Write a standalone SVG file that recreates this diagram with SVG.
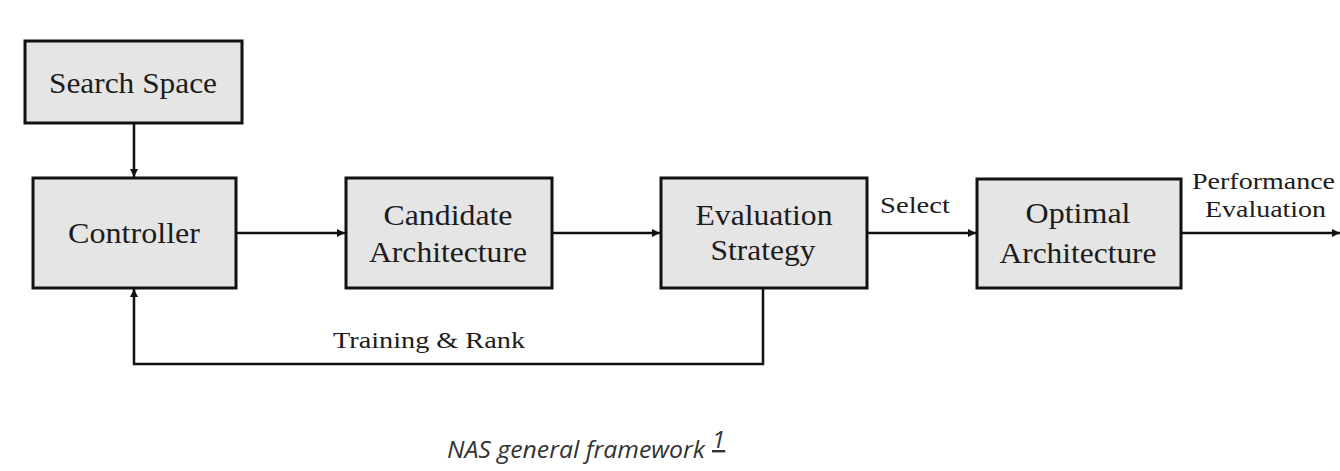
<svg xmlns="http://www.w3.org/2000/svg" width="1340" height="471" viewBox="0 0 1340 471">
  <defs>
    <marker id="arrow" viewBox="0 0 10 10" refX="10" refY="5" markerWidth="3.6" markerHeight="3.2" orient="auto" markerUnits="strokeWidth">
      <path d="M0,0 L10,5 L0,10 z" fill="#111"/>
    </marker>
    <style>
      .box { fill: #e5e5e5; stroke: #111; stroke-width: 3; }
      .lbl { font-family: 'Liberation Serif', Tinos, 'Times New Roman', Times, serif; font-size: 29px; fill: #1c1c1c; text-anchor: middle; }
      .edge-lbl { font-family: 'Liberation Serif', Tinos, 'Times New Roman', Times, serif; font-size: 24px; fill: #1c1c1c; }
      .wire { fill: none; stroke: #111; stroke-width: 2.5; }
      .caption { font-family: 'Open Sans', 'DejaVu Sans', sans-serif; font-style: italic; font-size: 24px; fill: #333; }
    </style>
  </defs>

  <rect width="1340" height="471" fill="#fff"/>

  <!-- connectors -->
  <g id="connectors">
    <line class="wire" x1="134" y1="123" x2="134" y2="177" marker-end="url(#arrow)"/>
    <line class="wire" x1="236" y1="233" x2="345" y2="233" marker-end="url(#arrow)"/>
    <line class="wire" x1="552" y1="233" x2="660" y2="233" marker-end="url(#arrow)"/>
    <line class="wire" x1="867" y1="233" x2="976" y2="233" marker-end="url(#arrow)"/>
    <line class="wire" x1="1181" y1="233" x2="1340" y2="233" marker-end="url(#arrow)"/>
    <polyline class="wire" points="763,288 763,364 134,364 134,289" marker-end="url(#arrow)"/>
    <text class="edge-lbl" x="880" y="213" textLength="70" lengthAdjust="spacingAndGlyphs">Select</text>
    <text class="edge-lbl" x="333" y="348" textLength="192" lengthAdjust="spacingAndGlyphs">Training &amp; Rank</text>
    <text class="edge-lbl" x="1192" y="189" textLength="143" lengthAdjust="spacingAndGlyphs">Performance</text>
    <text class="edge-lbl" x="1205" y="217" textLength="121" lengthAdjust="spacingAndGlyphs">Evaluation</text>
  </g>

  <g id="search-space">
    <rect class="box" x="25" y="41" width="217" height="82"/>
    <text class="lbl" x="133" y="93" textLength="168" lengthAdjust="spacingAndGlyphs">Search Space</text>
  </g>

  <g id="controller">
    <rect class="box" x="33" y="178" width="203" height="110"/>
    <text class="lbl" x="134" y="243" textLength="132" lengthAdjust="spacingAndGlyphs">Controller</text>
  </g>

  <g id="candidate-architecture">
    <rect class="box" x="346" y="178" width="206" height="110"/>
    <text class="lbl" x="448" y="225" textLength="129" lengthAdjust="spacingAndGlyphs">Candidate</text>
    <text class="lbl" x="448" y="262" textLength="158" lengthAdjust="spacingAndGlyphs">Architecture</text>
  </g>

  <g id="evaluation-strategy">
    <rect class="box" x="661" y="178" width="206" height="110"/>
    <text class="lbl" x="764" y="225" textLength="137" lengthAdjust="spacingAndGlyphs">Evaluation</text>
    <text class="lbl" x="763" y="260" textLength="105" lengthAdjust="spacingAndGlyphs">Strategy</text>
  </g>

  <g id="optimal-architecture">
    <rect class="box" x="977" y="179" width="204" height="109"/>
    <text class="lbl" x="1078" y="223" textLength="105" lengthAdjust="spacingAndGlyphs">Optimal</text>
    <text class="lbl" x="1078" y="263" textLength="157" lengthAdjust="spacingAndGlyphs">Architecture</text>
  </g>

  <g id="caption">
    <text class="caption" x="447" y="458" textLength="258" lengthAdjust="spacingAndGlyphs">NAS general framework</text>
    <text class="caption" x="712" y="448" font-size="14" text-decoration="underline">1</text>
  </g>
</svg>
